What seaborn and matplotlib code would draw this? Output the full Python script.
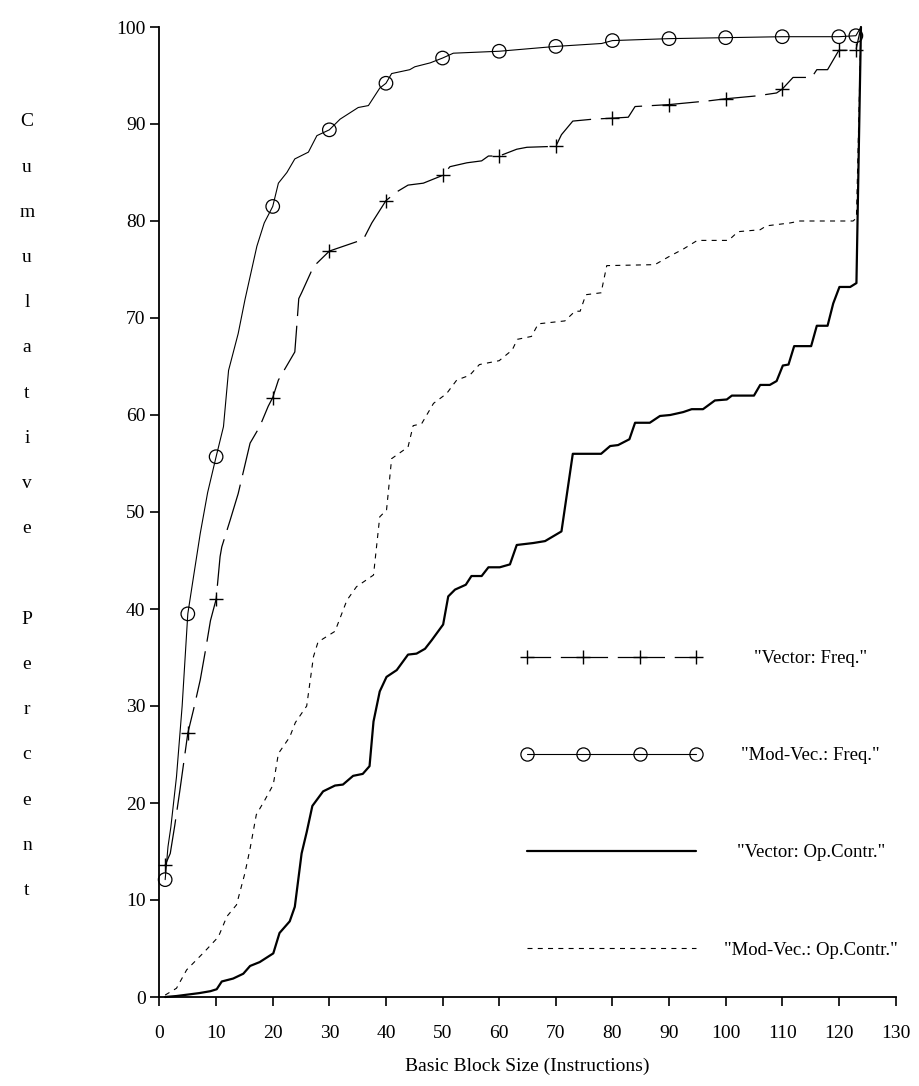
import matplotlib
matplotlib.use("Agg")
import matplotlib.pyplot as plt
from matplotlib.lines import Line2D
import seaborn as sns

# cumulative percent vs basic block size
# "Vector: Freq." (plus markers, long dashes)
vf_x = [1.0, 1.9, 2.7, 3.6, 5.0, 6.0, 7.2, 8.2, 9.0, 10.0, 10.7, 11.0, 12.5, 13.9, 16.0, 17.7,
        19.2, 20.0, 21.0, 23.9, 24.2, 24.6, 25.1, 27.2, 30.0, 32.5, 36.0, 37.5, 40.0, 41.9, 43.9,
        46.6, 50.0, 51.3, 54.3, 56.9, 58.1, 60.0, 63.1, 64.9, 70.0, 71.0, 73.0, 76.6, 80.0, 82.8,
        84.0, 90.0, 97.2, 100.0, 105.5, 109.0, 110.0, 111.9, 115.2, 116.1, 118.0, 120.0, 123.0, 123.9]
vf_y = [13.6, 14.8, 17.7, 21.3, 27.2, 29.6, 32.7, 36.0, 38.8, 41.0, 45.4, 46.4, 49.2, 51.9, 57.1, 58.8,
        60.9, 61.8, 63.6, 66.5, 68.8, 72.0, 72.6, 75.3, 76.9, 77.4, 78.1, 79.8, 82.1, 83.0, 83.7,
        83.9, 84.7, 85.6, 86.0, 86.2, 86.7, 86.7, 87.4, 87.6, 87.7, 88.9, 90.3, 90.5, 90.6, 90.7,
        91.8, 92.0, 92.4, 92.6, 92.9, 93.2, 93.6, 94.8, 94.8, 95.6, 95.6, 97.6, 97.6, 100.0]

# "Mod-Vec.: Freq." (open circles, thin solid)
mf_x = [1.0, 1.5, 2.0, 3.0, 4.0, 5.0, 6.0, 7.2, 8.5, 10.0, 11.3, 12.2, 13.9, 15.1, 17.2, 18.5,
        20.0, 21.0, 22.5, 23.9, 26.3, 27.8, 30.0, 31.9, 35.1, 36.9, 38.9, 40.0, 41.0, 44.2, 45.1,
        47.8, 50.0, 51.9, 60.0, 70.0, 78.1, 80.0, 90.0, 100.0, 110.0, 120.0, 123.0, 123.9]
mf_y = [12.1, 15.5, 17.5, 22.7, 30.0, 39.5, 43.3, 47.8, 52.0, 55.7, 58.8, 64.6, 68.4, 71.9, 77.4, 79.8,
        81.5, 83.9, 85.0, 86.4, 87.1, 88.8, 89.4, 90.5, 91.7, 91.9, 93.7, 94.2, 95.2, 95.6, 95.9,
        96.3, 96.8, 97.3, 97.5, 98.0, 98.3, 98.6, 98.8, 98.9, 99.0, 99.0, 99.1, 100.0]

# x positions that carry a marker on the two frequency curves
mark_x = [1, 5, 10, 20, 30, 40, 50, 60, 70, 80, 90, 100, 110, 120, 123]

# "Vector: Op.Contr." (thick solid)
vo_x = [1.0, 3.0, 5.0, 7.0, 9.0, 10.1, 11.0, 13.0, 14.8, 16.0, 17.7, 20.1, 21.2, 23.0, 23.9, 25.1,
        26.0, 27.0, 28.9, 31.0, 32.4, 34.2, 35.9, 37.1, 37.8, 38.9, 40.1, 41.9, 43.9, 45.4, 46.9,
        48.1, 50.1, 51.0, 52.2, 54.1, 55.1, 56.9, 58.1, 60.1, 61.9, 63.1, 66.0, 68.1, 71.0, 73.0,
        78.0, 79.6, 81.0, 83.0, 84.0, 86.6, 88.4, 90.2, 92.5, 94.0, 96.0, 98.1, 100.2, 101.1, 105.0,
        106.1, 107.8, 109.0, 110.1, 111.1, 112.1, 115.1, 116.1, 118.0, 119.0, 120.1, 122.0, 123.1, 123.9]
vo_y = [0.0, 0.1, 0.25, 0.4, 0.6, 0.8, 1.6, 1.9, 2.4, 3.2, 3.6, 4.5, 6.6, 7.8, 9.3, 14.8,
        17.0, 19.7, 21.2, 21.8, 21.9, 22.8, 23.0, 23.8, 28.4, 31.5, 33.0, 33.7, 35.3, 35.4, 35.9,
        36.8, 38.4, 41.3, 42.0, 42.5, 43.4, 43.4, 44.3, 44.3, 44.6, 46.6, 46.8, 47.0, 48.0, 56.0,
        56.0, 56.8, 56.9, 57.5, 59.2, 59.2, 59.9, 60.0, 60.3, 60.6, 60.6, 61.5, 61.6, 62.0, 62.0,
        63.1, 63.1, 63.5, 65.1, 65.2, 67.1, 67.1, 69.2, 69.2, 71.5, 73.2, 73.2, 73.6, 100.0]

# "Mod-Vec.: Op.Contr." (short dashes)
mo_x = [1.0, 3.0, 4.8, 8.0, 10.4, 11.9, 13.6, 15.1, 16.0, 17.1, 18.6, 20.1, 21.0, 23.0, 24.0, 26.0,
        27.2, 28.0, 31.0, 33.1, 34.8, 37.8, 38.9, 40.1, 41.0, 43.9, 44.8, 46.3, 48.4, 50.7, 52.5,
        54.8, 56.5, 60.0, 62.3, 63.2, 65.7, 66.9, 71.6, 73.4, 74.3, 75.3, 78.0, 79.0, 87.5, 90.2,
        92.5, 95.0, 100.5, 102.2, 106.1, 107.2, 111.4, 113.1, 122.5, 123.1, 123.9]
mo_y = [0.2, 0.9, 2.8, 4.7, 6.2, 8.3, 9.5, 12.8, 15.3, 18.8, 20.3, 21.9, 25.1, 26.8, 28.3, 30.0,
        35.1, 36.6, 37.7, 40.9, 42.3, 43.5, 49.5, 50.2, 55.5, 56.7, 58.9, 59.1, 61.2, 62.2, 63.6,
        64.1, 65.2, 65.6, 66.7, 67.8, 68.1, 69.4, 69.7, 70.7, 70.7, 72.4, 72.6, 75.4, 75.5, 76.4,
        77.1, 78.0, 78.0, 78.9, 79.1, 79.5, 79.8, 80.0, 80.0, 80.3, 100.0]

x_ticks = list(range(0, 131, 10))
y_ticks = list(range(0, 101, 10))
labels = ['"Vector: Freq."', '"Mod-Vec.: Freq."', '"Vector: Op.Contr."', '"Mod-Vec.: Op.Contr."']

sns.set_theme(style="ticks", rc={
    "axes.edgecolor": "black", "text.color": "black", "axes.labelcolor": "black",
    "xtick.color": "black", "ytick.color": "black", "lines.scale_dashes": False,
})
plt.rcParams["font.family"] = ["Liberation Serif", "DejaVu Serif"]

FS = 14
LONG_DASH = (0, (34, 7))
SHORT_DASH = (0, (3.6, 3.8))

fig = plt.figure(figsize=(9.2, 10.86), dpi=100)
ax = fig.add_axes([159.5 / 920, 89 / 1086, 736 / 920, 970 / 1086])

# curves
sns.lineplot(x=vf_x, y=vf_y, ax=ax, color="black", lw=0.9, linestyle=LONG_DASH,
             sort=False, errorbar=None, clip_on=False)
sns.lineplot(x=mf_x, y=mf_y, ax=ax, color="black", lw=0.8,
             sort=False, errorbar=None, clip_on=False)
sns.lineplot(x=vo_x, y=vo_y, ax=ax, color="black", lw=1.6,
             sort=False, errorbar=None, clip_on=False)
sns.lineplot(x=mo_x, y=mo_y, ax=ax, color="black", lw=0.8, linestyle=SHORT_DASH,
             sort=False, errorbar=None, clip_on=False)

# markers on the frequency curves
vf_mx = [x for x in vf_x if x in mark_x]
vf_my = [y for x, y in zip(vf_x, vf_y) if x in mark_x]
mf_mx = [x for x in mf_x if x in mark_x]
mf_my = [y for x, y in zip(mf_x, mf_y) if x in mark_x]
sns.scatterplot(x=vf_mx, y=vf_my, ax=ax, marker="+", s=110, color="black",
                linewidth=1.0, zorder=3, clip_on=False)
sns.scatterplot(x=mf_mx, y=mf_my, ax=ax, marker="o", s=95, facecolor="none",
                edgecolor="black", linewidth=0.9, zorder=3, clip_on=False)

ax.set_xlim(0, 130)
ax.set_ylim(0, 100)
ax.set_xticks(x_ticks)
ax.set_yticks(y_ticks)
sns.despine(ax=ax)
for sp in ["left", "bottom"]:
    ax.spines[sp].set_linewidth(1.3)
ax.tick_params(direction="out", length=6.5, width=1.2, labelsize=FS)
ax.tick_params(axis="y", pad=3.5)
ax.tick_params(axis="x", pad=14)

ax.set_xlabel("Basic Block Size (Instructions)", fontsize=FS, labelpad=11)
ax.set_ylabel("\n".join("Cumulative Percent"), rotation=0, fontsize=FS,
              ha="center", va="center", linespacing=3.17)
ax.yaxis.set_label_coords(-0.18, 0.506)

# legend
handles = [
    Line2D([], [], color="black", lw=0.9, linestyle=(17, (34, 7)),
           marker="+", markersize=10, markeredgewidth=1.0),
    Line2D([], [], color="black", lw=0.8, marker="o", markersize=9.5,
           markerfacecolor="none", markeredgewidth=0.9),
    Line2D([], [], color="black", lw=1.6),
    Line2D([], [], color="black", lw=0.8, linestyle=SHORT_DASH),
]
leg = ax.legend(handles, labels, numpoints=4, frameon=False, fontsize=13.5,
                loc="upper left", bbox_to_anchor=(521.4 / 920, 0.4015),
                bbox_transform=fig.transFigure, borderpad=0, borderaxespad=0,
                handlelength=9.6, handletextpad=1.2, labelspacing=4.27)

# centre the legend labels on a common axis, as in the original
fig.canvas.draw()
texts = leg.get_texts()
widths = [t.get_window_extent().width for t in texts]
for t, w in zip(texts, widths):
    t.set_position(((max(widths) - w) / 2, 0))

fig.savefig("out.png", dpi=100)
